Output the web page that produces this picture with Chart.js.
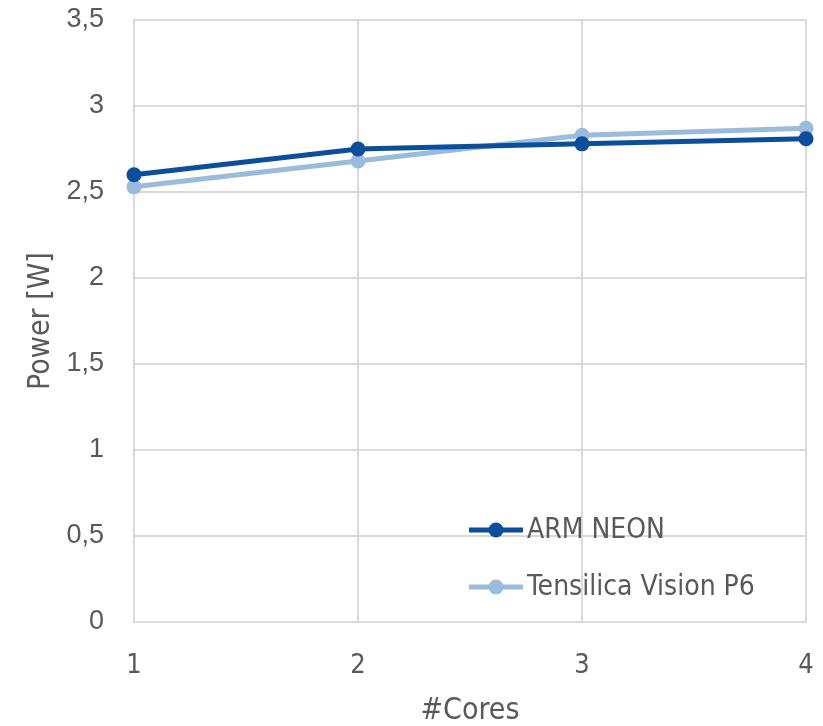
<!DOCTYPE html>
<html>
<head>
<meta charset="utf-8">
<script src="https://cdn.jsdelivr.net/npm/chart.js@4/dist/chart.umd.min.js"></script>
<style>
  html, body { margin: 0; padding: 0; background: #ffffff; }
  #wrap { width: 823px; height: 726px; }
</style>
</head>
<body>
<div id="wrap"><canvas id="c" width="823" height="726"></canvas></div>
<script>
// Number of cores (x axis)
const cores = [1, 2, 3, 4];
// Measured power draw in watts
const armNeon = [2.60, 2.75, 2.78, 2.81];
const tensilicaP6 = [2.53, 2.68, 2.83, 2.87];
const seriesNames = ['ARM NEON', 'Tensilica Vision P6'];
const xTitle = '#Cores';
const yTitle = 'Power [W]';

const TEXT = '#595959';
const GRID = '#d9d9d9';
const DARK = '#0b4f9c';
const LIGHT = '#9bbbdc';
const NARROW = '"Liberation Sans Narrow", "DejaVu Sans Condensed", sans-serif';

const toPoints = vals => cores.map((c, i) => ({ x: c, y: vals[i] }));

// Legend drawn inside the plot area, lower right
const insideLegend = {
  id: 'insideLegend',
  afterDatasetsDraw(chart) {
    const ctx = chart.ctx;
    const rows = [530, 587];
    const x0 = 469, x1 = 523, xm = 496, tx = 527;
    ctx.save();
    chart.data.datasets.forEach((ds, i) => {
      const y = rows[i];
      ctx.strokeStyle = ds.borderColor;
      ctx.lineWidth = 5;
      ctx.beginPath();
      ctx.moveTo(x0, y);
      ctx.lineTo(x1, y);
      ctx.stroke();
      ctx.fillStyle = ds.borderColor;
      ctx.beginPath();
      ctx.arc(xm, y, 7.5, 0, Math.PI * 2);
      ctx.fill();
      ctx.fillStyle = TEXT;
      ctx.font = '28px ' + NARROW;
      ctx.textBaseline = 'middle';
      ctx.textAlign = 'left';
      ctx.fillText(ds.label, tx, y + 1);
    });
    ctx.restore();
  }
};

// Fixed axis band sizes so the plot edges sit where intended
const fitX = s => { s.paddingLeft = 0; s.paddingRight = 0; s.height = 104; };
const fitY = s => { s.paddingTop = 0; s.paddingBottom = 0; s.width = 114; };

new Chart(document.getElementById('c'), {
  type: 'line',
  data: {
    datasets: [
      {
        label: seriesNames[0],
        data: toPoints(armNeon),
        borderColor: DARK,
        backgroundColor: DARK,
        borderWidth: 5,
        pointRadius: 7.5,
        pointHoverRadius: 7.5,
        pointBackgroundColor: DARK,
        pointBorderWidth: 0,
        tension: 0,
        clip: false
      },
      {
        label: seriesNames[1],
        data: toPoints(tensilicaP6),
        borderColor: LIGHT,
        backgroundColor: LIGHT,
        borderWidth: 5,
        pointRadius: 7.5,
        pointHoverRadius: 7.5,
        pointBackgroundColor: LIGHT,
        pointBorderWidth: 0,
        tension: 0,
        clip: false
      }
    ]
  },
  options: {
    responsive: false,
    devicePixelRatio: 1,
    animation: false,
    layout: { padding: { top: 20, right: 17, left: 20, bottom: 0 } },
    plugins: {
      legend: { display: false },
      tooltip: { enabled: false }
    },
    scales: {
      x: {
        type: 'linear',
        min: 1,
        max: 4,
        afterFit: fitX,
        ticks: {
          stepSize: 1,
          color: TEXT,
          font: { family: NARROW, size: 27 },
          padding: 28
        },
        grid: { color: GRID, lineWidth: 2, drawTicks: false },
        border: { color: GRID, width: 2 },
        title: {
          display: true,
          text: xTitle,
          color: TEXT,
          font: { family: NARROW, size: 30, lineHeight: 1.0 },
          padding: { top: 2, bottom: 0 }
        }
      },
      y: {
        min: 0,
        max: 3.5,
        afterFit: fitY,
        ticks: {
          stepSize: 0.5,
          color: TEXT,
          font: { family: '"Liberation Sans", Arial, sans-serif', size: 27 },
          padding: 30,
          callback: v => String(v).replace('.', ',')
        },
        grid: { color: GRID, lineWidth: 2, drawTicks: false },
        border: { color: GRID, width: 2 },
        title: {
          display: true,
          text: yTitle,
          color: TEXT,
          font: { family: NARROW, size: 30, lineHeight: 1.0 },
          padding: { top: 6, bottom: 8 }
        }
      }
    }
  },
  plugins: [insideLegend]
});
</script>
</body>
</html>
